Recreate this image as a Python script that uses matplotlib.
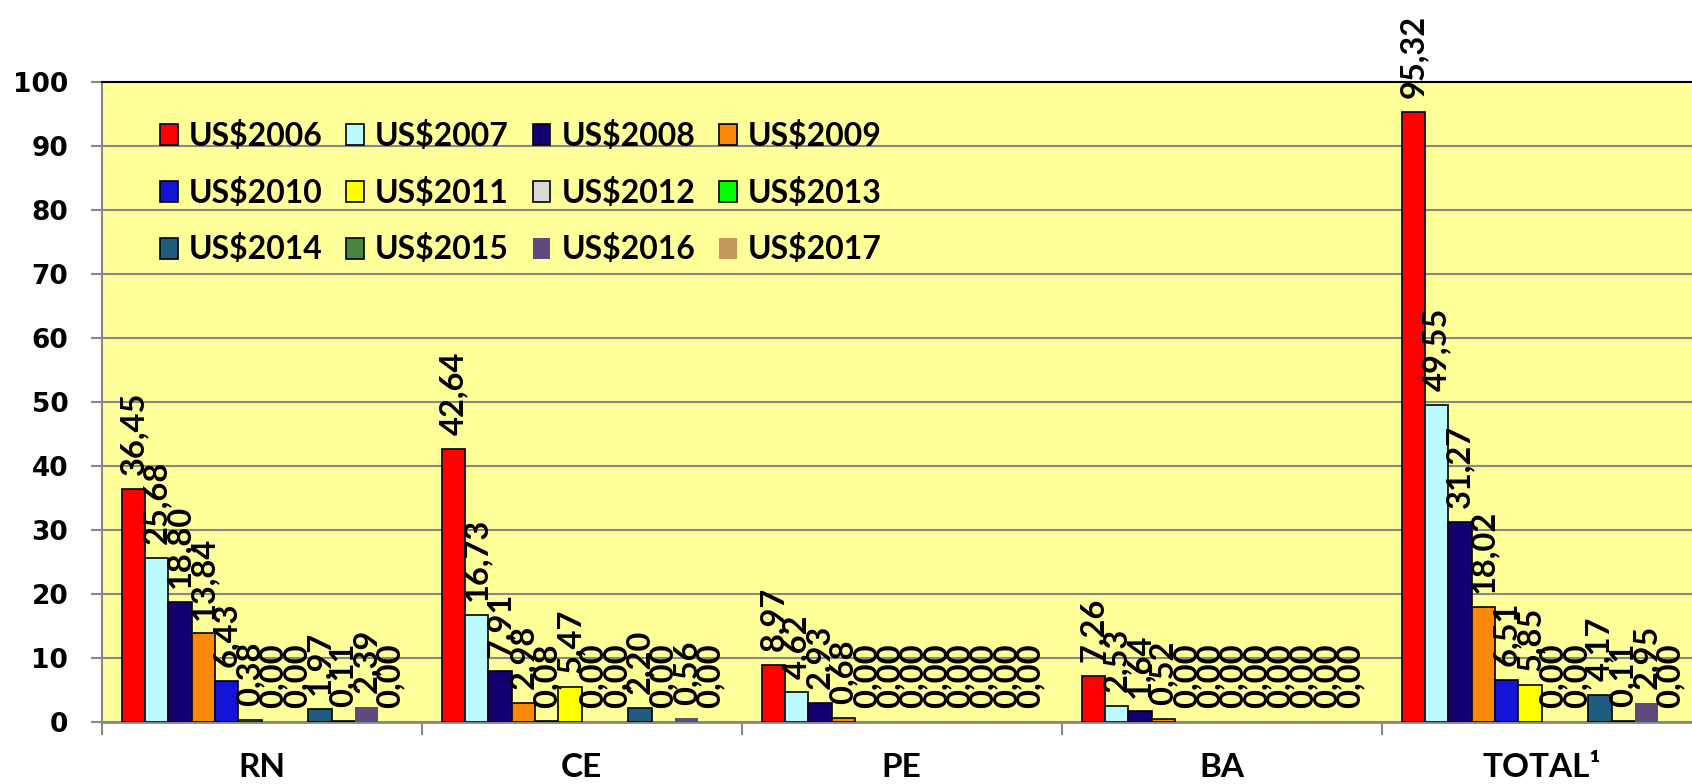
import matplotlib
matplotlib.use('Agg')
import matplotlib.pyplot as plt
import numpy as np

plt.rcParams['font.family'] = ['Lato', 'DejaVu Sans']

categories = ['RN', 'CE', 'PE', 'BA', 'TOTAL¹']
years = ['US$2006', 'US$2007', 'US$2008', 'US$2009', 'US$2010', 'US$2011',
         'US$2012', 'US$2013', 'US$2014', 'US$2015', 'US$2016', 'US$2017']

# one list per category, values for 2006..2017
rn = [36.45, 25.68, 18.80, 13.84, 6.43, 0.38, 0.00, 0.00, 1.97, 0.11, 2.39, 0.00]
ce = [42.64, 16.73, 7.91, 2.98, 0.08, 5.47, 0.00, 0.00, 2.20, 0.00, 0.56, 0.00]
pe = [8.97, 4.62, 2.93, 0.68, 0.00, 0.00, 0.00, 0.00, 0.00, 0.00, 0.00, 0.00]
ba = [7.26, 2.53, 1.64, 0.52, 0.00, 0.00, 0.00, 0.00, 0.00, 0.00, 0.00, 0.00]
total = [95.32, 49.55, 31.27, 18.02, 6.51, 5.85, 0.00, 0.00, 4.17, 0.11, 2.95, 0.00]

colors = ['#FF0000', '#BBFBFF', '#110070', '#FA880A', '#1414D8', '#FFFF00',
          '#D9D9D9', '#00FF00', '#1F5C7F', '#4A8540', '#5F4A7E', '#C4985A']
edges = ['black'] * 10 + ['none', 'none']

data = np.array([rn, ce, pe, ba, total])

fig = plt.figure(figsize=(16.92, 7.84), dpi=100)
ax = fig.add_axes([0.0601, 0.0791, 0.9456, 0.8163])
ax.set_facecolor('#FFFF99')

x = np.arange(len(categories))
n = len(years)
w = 0.875 / n

for j in range(n):
    vals = data[:, j]
    lw = [1.2 if v > 0 else 0 for v in vals]
    pos = x + (j - (n - 1) / 2) * w
    ax.bar(pos, vals, width=w, color=colors[j], edgecolor=edges[j],
           linewidth=lw, label=years[j], zorder=3)
    for px, v in zip(pos, vals):
        ax.annotate(f'{v:.2f}'.replace('.', ','), (px, v), xytext=(0, 10),
                    textcoords='offset points', rotation=90, ha='center',
                    va='bottom', fontsize=23.5, fontweight='bold', zorder=5)

ax.set_xlim(-0.5, len(categories) - 0.5)
ax.set_ylim(0, 100)
ax.set_yticks(np.arange(0, 101, 10))
ax.yaxis.grid(True, color='#888888', linewidth=1.5, zorder=0)
ax.set_axisbelow(True)

for lab in ax.get_yticklabels():
    lab.set_fontfamily('DejaVu Sans')
    lab.set_fontweight('bold')
    lab.set_fontsize(19)
ax.tick_params(axis='y', direction='out', length=8, width=1.5,
               color='#888888', pad=16)

ax.set_xticks(np.arange(-0.5, len(categories), 1.0))
ax.set_xticklabels([])
ax.tick_params(axis='x', which='major', direction='out', length=9,
               width=1.5, color='#888888')
ax.set_xticks(x, minor=True)
ax.set_xticklabels(categories, minor=True, fontsize=24, fontweight='bold')
ax.tick_params(axis='x', which='minor', length=0, pad=22)

ax.spines['left'].set_color('#888888')
ax.spines['left'].set_linewidth(1.5)
ax.spines['bottom'].set_color('#888888')
ax.spines['bottom'].set_linewidth(2)
ax.spines['top'].set_color('black')
ax.spines['top'].set_linewidth(1.5)
ax.spines['right'].set_visible(False)

# legend reads row by row in the reference
handles, labels = ax.get_legend_handles_labels()
order = [0, 4, 8, 1, 5, 9, 2, 6, 10, 3, 7, 11]
leg = ax.legend([handles[i] for i in order], [labels[i] for i in order],
                ncol=4, loc='upper left', bbox_to_anchor=(0.0946, 0.846),
                bbox_transform=fig.transFigure, frameon=False, borderpad=0,
                borderaxespad=0, handlelength=0.56, handleheight=0.63,
                handletextpad=0.34, columnspacing=0.74, labelspacing=0.84,
                prop={'size': 23, 'weight': 'bold'})
for h in leg.legend_handles:
    h.set_linewidth(1.2)

fig.savefig('out.png', dpi=100)
